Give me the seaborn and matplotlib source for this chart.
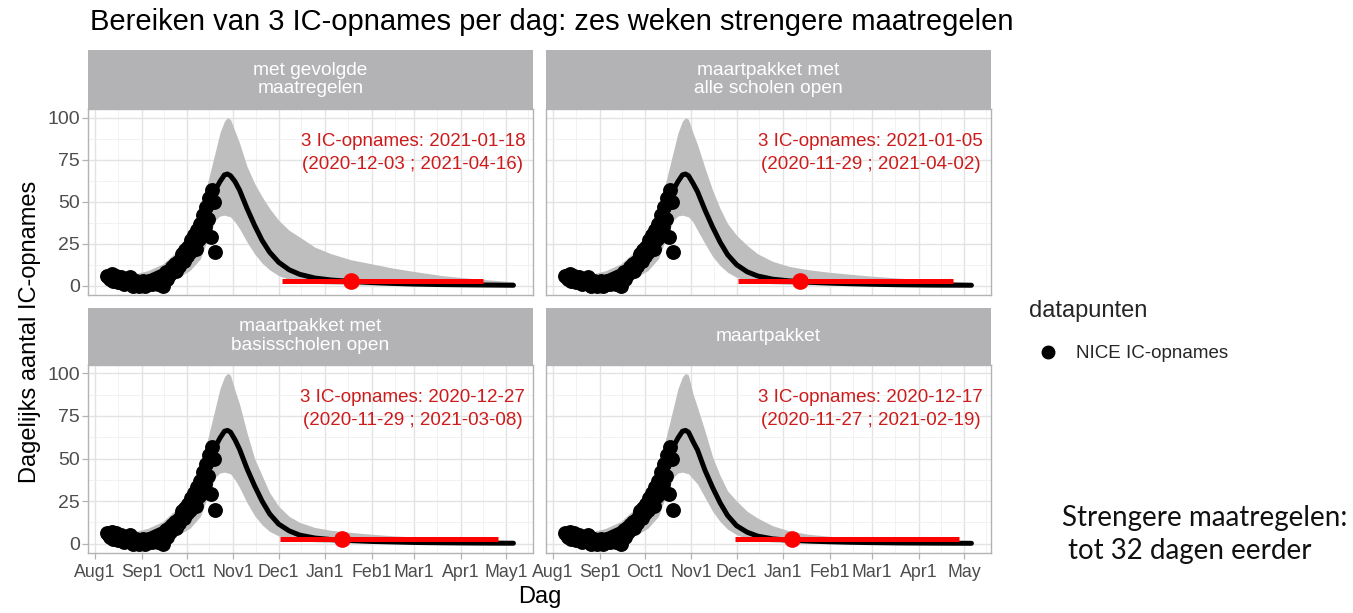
import numpy as np
import pandas as pd
import seaborn as sns
import matplotlib.pyplot as plt
from matplotlib.lines import Line2D
import matplotlib.dates as mdates

sns.set_theme(style="whitegrid")
plt.rcParams['font.family'] = ['Liberation Sans', 'DejaVu Sans']

# panel titles and red annotations
panels = ["met gevolgde\nmaatregelen", "maartpakket met\nalle scholen open",
          "maartpakket met\nbasisscholen open", "maartpakket"]
notes = ["3 IC-opnames: 2021-01-18\n(2020-12-03 ; 2021-04-16)",
         "3 IC-opnames: 2021-01-05\n(2020-11-29 ; 2021-04-02)",
         "3 IC-opnames: 2020-12-27\n(2020-11-29 ; 2021-03-08)",
         "3 IC-opnames: 2020-12-17\n(2020-11-27 ; 2021-02-19)"]

# red marks as drawn in the picture
hit_mid = ["2021-01-18", "2021-01-12", "2021-01-12", "2021-01-07"]
hit_lo = ["2020-12-03", "2020-12-02", "2020-12-02", "2020-11-30"]
hit_hi = ["2021-04-16", "2021-04-24", "2021-04-26", "2021-04-28"]
hit_level = 3

# NICE IC-opnames, daily from 2020-08-09 to 2020-10-20
nice_start = "2020-08-09"
nice = [6, 5, 4, 7, 3, 5, 6, 2, 4, 5, 3, 1, 4, 2, 3, 5, 1, 0, 2, 3, 1, 0, 2,
        1, 3, 0, 2, 1, 3, 2, 1, 3, 2, 4, 1, 5, 3, 0, 6, 8, 4, 9, 7, 11, 10, 13, 9, 14, 12, 16, 19, 15, 21,
        18, 23, 20, 27, 24, 30, 22, 33, 28, 37, 31, 42, 35, 47, 40, 52, 29, 57, 50, 20]

# model curves
model_dates = ["2020-08-09", "2020-08-17", "2020-08-25", "2020-09-05", "2020-09-15", "2020-09-25",
               "2020-10-03", "2020-10-10", "2020-10-15", "2020-10-20", "2020-10-23", "2020-10-26",
               "2020-10-28", "2020-10-30",
               "2020-11-02", "2020-11-05", "2020-11-10", "2020-11-15", "2020-11-20", "2020-11-25",
               "2020-12-01", "2020-12-08", "2020-12-15", "2020-12-25", "2021-01-05", "2021-01-18",
               "2021-02-01", "2021-02-15", "2021-03-01", "2021-03-20", "2021-04-10", "2021-05-06"]

mid_rise = [3.5, 3, 3.2, 5, 9, 16, 26, 38, 48, 57, 62, 66, 66.5, 65.5]
hi_rise = [6, 6, 6.5, 9, 13, 21, 30, 45, 62, 80, 91, 98, 100, 99]
lo_rise = [1, 0.5, 0.8, 1.5, 3, 5, 9, 16, 28, 39, 41.5, 42, 41.5, 41]

mid_tail = [
    [62, 57, 46, 36, 27, 20, 14, 9.5, 6.8, 4.6, 3.4, 2.6, 1.9, 1.4, 1.0, 0.7, 0.5, 0.3],
    [61, 56, 45, 35, 26, 18.5, 12.5, 8.3, 5.8, 3.9, 2.9, 2.1, 1.6, 1.2, 0.9, 0.6, 0.4, 0.3],
    [61, 55.5, 44, 34, 25, 17.5, 11.5, 7.5, 5, 3.3, 2.4, 1.8, 1.3, 1.0, 0.7, 0.5, 0.35, 0.25],
    [60, 55, 43, 33, 24, 16.5, 10.5, 6.7, 4.4, 2.8, 2.0, 1.5, 1.1, 0.8, 0.6, 0.4, 0.3, 0.2],
]
hi_tail = [
    [92, 85, 71, 61, 53, 46, 39, 33, 29, 23, 19, 15.5, 13, 10.5, 8.5, 6, 4.2, 2.3],
    [91, 84, 70, 57, 46, 37, 30, 24, 19, 14.5, 11.5, 9.5, 8, 6.8, 5.7, 4.5, 3.3, 2],
    [90, 82, 65, 50, 40, 30, 22, 16, 12.5, 9.5, 7.8, 6.6, 5.5, 4.6, 3.9, 3.0, 2.2, 1.2],
    [88, 80, 66, 51, 40, 31, 25, 19, 15, 10.5, 7.5, 5.5, 4.3, 3.3, 2.6, 1.9, 1.3, 0.8],
]
lo_tail = [
    [38, 34, 26, 19, 13.5, 9.5, 6, 3.8, 2.5, 1.5, 1.0, 0.6, 0.4, 0.3, 0.2, 0.1, 0.1, 0.05],
    [38, 33, 25, 17.5, 12, 8, 5, 3.1, 2, 1.2, 0.8, 0.5, 0.35, 0.25, 0.15, 0.1, 0.1, 0.05],
    [37.5, 33, 24, 16.5, 11, 7.2, 4.5, 2.8, 1.8, 1.1, 0.7, 0.45, 0.3, 0.2, 0.15, 0.1, 0.05, 0.05],
    [38, 35, 27, 19, 13, 8.5, 5.2, 3, 1.8, 1.0, 0.6, 0.4, 0.3, 0.2, 0.1, 0.1, 0.05, 0.05],
]

month_ticks = ["2020-08-01", "2020-09-01", "2020-10-01", "2020-11-01", "2020-12-01",
               "2021-01-01", "2021-02-01", "2021-03-01", "2021-04-01", "2021-05-01"]
month_labels = ["Aug1", "Sep1", "Oct1", "Nov1", "Dec1", "Jan1", "Feb1", "Mar1", "Apr1", "May1"]
month_labels_right = ["Aug1", "Sep1", "Oct1", "Nov1", "Dec1", "Jan1", "Feb1", "Mar1", "Apr1", "May"]
y_ticks = [0, 25, 50, 75, 100]

band_col = "#BEBEBE"
strip_col = "#B3B2B5"
grid_col = "#E3E3E3"
txt_grey = "#4D4D4D"

nice_df = pd.DataFrame({"dag": pd.date_range(nice_start, periods=len(nice), freq="D"), "n": nice})
mdates_x = pd.to_datetime(model_dates)

W, H = 1353, 613
fig = plt.figure(figsize=(W / 100, H / 100), dpi=100)


def box(x0, y0, x1, y1):
    return [x0 / W, 1 - y1 / H, (x1 - x0) / W, (y1 - y0) / H]


cols = [(88, 533), (546, 991)]
rows = [(50, 109, 294.5), (308, 364.5, 552.5)]

for i, name in enumerate(panels):
    r, c = i // 2, i % 2
    x0, x1 = cols[c]
    s0, s1, p1 = rows[r]

    strip = fig.add_axes(box(x0, s0, x1, s1))
    strip.set_facecolor(strip_col)
    strip.set_xticks([])
    strip.set_yticks([])
    for sp in strip.spines.values():
        sp.set_visible(False)
    strip.text(0.5, 0.5, name, ha="center", va="center", color="white", fontsize=13.8,
               linespacing=1.15, transform=strip.transAxes)

    ax = fig.add_axes(box(x0, s1, x1, p1))
    ax.set_facecolor("white")

    mid = mid_rise + mid_tail[i]
    hi = hi_rise + hi_tail[i]
    lo = lo_rise + lo_tail[i]
    ax.fill_between(mdates_x, lo, hi, color=band_col, lw=0, zorder=2)
    sns.lineplot(x=mdates_x, y=mid, color="black", lw=3.6, ax=ax, zorder=3)
    sns.scatterplot(data=nice_df, x="dag", y="n", color="black", s=115, edgecolor=None,
                    linewidth=0, ax=ax, zorder=4)
    ax.plot(pd.to_datetime([hit_lo[i], hit_hi[i]]), [hit_level, hit_level], color="red",
            lw=3.6, solid_capstyle="butt", zorder=5)
    ax.plot(pd.to_datetime([hit_mid[i]]), [hit_level], "o", color="red", ms=11, zorder=6)
    ax.text(0.73, 0.765, notes[i], ha="center", va="center", multialignment="center",
            color="#CD1A1A", fontsize=13.5, linespacing=1.45, transform=ax.transAxes)

    ax.set_xlim(pd.Timestamp("2020-07-27 08:00"), pd.Timestamp("2021-05-19"))
    ax.set_ylim(-5.2, 105.2)
    ax.set_xticks(pd.to_datetime(month_ticks))
    ax.xaxis.set_minor_locator(mdates.MonthLocator(bymonthday=16))
    ax.set_yticks(y_ticks)
    ax.set_yticks([12.5, 37.5, 62.5, 87.5], minor=True)
    ax.grid(True, which="major", color=grid_col, lw=1.0)
    ax.grid(True, which="minor", color="#F0F0F0", lw=0.6)
    ax.set_axisbelow(True)
    for sp in ax.spines.values():
        sp.set_color("#B3B3B3")
        sp.set_linewidth(1.0)
    ax.set_xlabel("")
    ax.set_ylabel("")
    ax.tick_params(axis="both", which="major", length=4, width=0.9, color="#B3B3B3",
                   labelsize=14, labelcolor=txt_grey, pad=2)
    ax.tick_params(axis="x", which="major", pad=4, labelsize=12.8)
    ax.tick_params(axis="both", which="minor", length=0)

    if r == 1:
        ax.set_xticklabels(month_labels if c == 0 else month_labels_right)
        ax.tick_params(axis="x", bottom=True)
    else:
        ax.tick_params(axis="x", bottom=False, labelbottom=False)
    if c == 0:
        ax.set_yticklabels([str(v) for v in y_ticks])
        ax.tick_params(axis="y", left=True)
    else:
        ax.tick_params(axis="y", left=False, labelleft=False)

fig.text(90 / W, 1 - 22 / H, "Bereiken van 3 IC-opnames per dag: zes weken strengere maatregelen",
         fontsize=21, ha="left", va="center", color="black")
fig.text(30 / W, 1 - 332 / H, "Dagelijks aantal IC-opnames", rotation=90, fontsize=17,
         ha="center", va="center", color="black")
fig.text(540 / W, 1 - 597 / H, "Dag", fontsize=17, ha="center", va="center", color="black")

handle = Line2D([], [], marker="o", color="black", linestyle="", markersize=9)
leg = fig.legend([handle], ["NICE IC-opnames"], title="datapunten", loc="upper left",
                 bbox_to_anchor=(1022 / W, 1 - 293 / H), frameon=False, fontsize=13.5,
                 title_fontsize=17, handletextpad=0.5, borderaxespad=0, labelspacing=1.2)
leg._legend_box.align = "left"

fig.text(1062 / W, 1 - 518 / H, "Strengere maatregelen:", fontsize=20, family=["Lato", "DejaVu Sans"],
         ha="left", va="center", color="#111111")
fig.text(1068 / W, 1 - 551 / H, "tot 32 dagen eerder", fontsize=20, family=["Lato", "DejaVu Sans"],
         ha="left", va="center", color="#111111")

fig.savefig("out.png", dpi=100)
